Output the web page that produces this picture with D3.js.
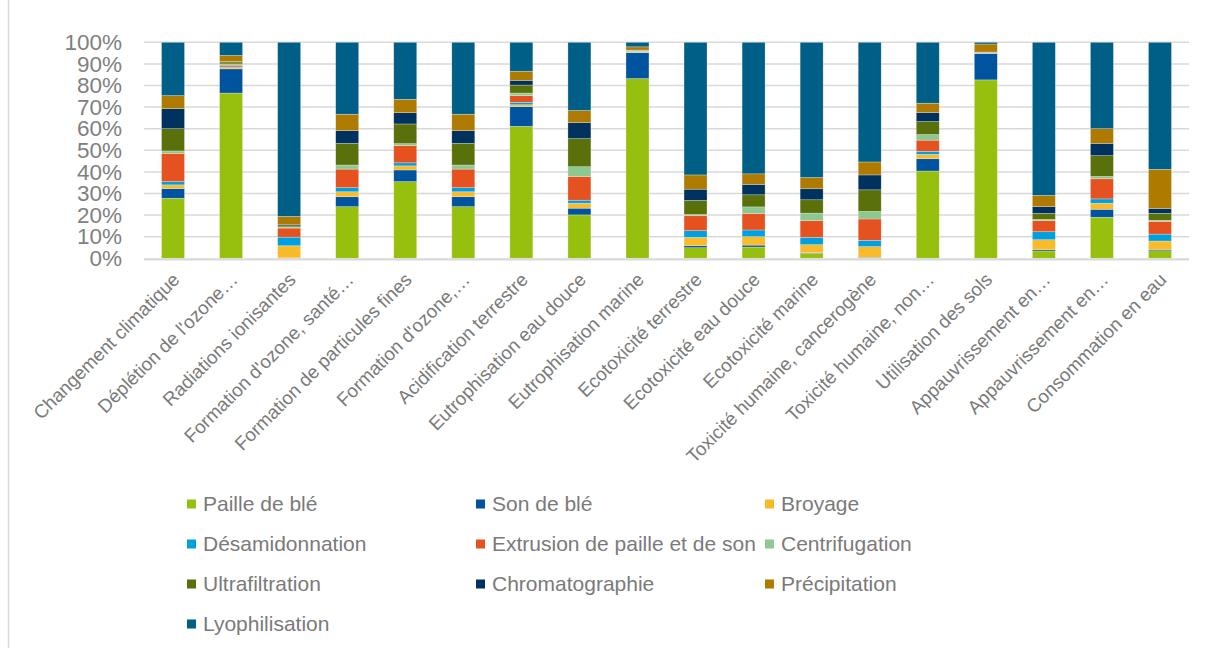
<!DOCTYPE html>
<html lang="fr">
<head>
<meta charset="utf-8">
<script src="https://cdn.jsdelivr.net/npm/d3@7"></script>
<style>
  html, body { margin: 0; padding: 0; background: #fff; }
  svg { display: block; font-family: "Liberation Sans", Arial, sans-serif; }
</style>
</head>
<body>
<svg id="chart" width="1205" height="648"></svg>
<script>
// Impact categories (x axis)
const categories = [
  "Changement climatique", "Déplétion de l'ozone…", "Radiations ionisantes",
  "Formation d'ozone, santé…", "Formation de particules fines", "Formation d'ozone,…",
  "Acidification terrestre", "Eutrophisation eau douce", "Eutrophisation marine",
  "Ecotoxicité terrestre", "Ecotoxicité eau douce", "Ecotoxicité marine",
  "Toxicité humaine, cancerogène", "Toxicité humaine, non…", "Utilisation des sols",
  "Appauvrissement en…", "Appauvrissement en…", "Consommation en eau"
];

// Contribution of each process step (%), one value per category
const pailleDeBle      = [27.8, 76.5, 0.1, 23.9, 35.5, 23.9, 61.1, 20.1, 83.2, 4.9, 5.2, 2.3, 0.3, 40.4, 82.6, 3.4, 19.0, 3.5];
const sonDeBle         = [4.5, 11.2, 0.1, 4.6, 5.4, 4.6, 9.1, 3.1, 12.0, 0.9, 0.9, 0.3, 0.2, 5.7, 12.2, 0.6, 3.7, 0.6];
const broyage          = [1.7, 0.6, 5.6, 2.3, 1.9, 2.3, 0.9, 2.3, 0.2, 3.9, 3.9, 3.7, 4.9, 2.0, 0.1, 4.6, 2.8, 3.9];
const desamidonnation  = [1.5, 0.3, 4.0, 1.9, 1.4, 1.9, 1.1, 1.4, 0.1, 3.1, 3.1, 3.4, 2.9, 1.4, 0.1, 3.7, 2.0, 3.2];
const extrusion        = [13.1, 0.8, 4.2, 8.6, 8.0, 8.6, 3.1, 11.0, 0.3, 6.9, 7.6, 7.7, 9.9, 5.2, 0.2, 5.1, 9.3, 5.9];
const centrifugation   = [1.1, 0.6, 0.5, 1.9, 0.9, 1.9, 1.2, 4.5, 0.4, 0.6, 3.1, 3.5, 3.5, 2.6, 0.1, 0.6, 1.1, 0.5];
const ultrafiltration  = [10.3, 0.9, 0.5, 10.0, 9.1, 10.0, 3.7, 13.0, 0.1, 6.5, 5.6, 6.2, 10.0, 6.0, 0.1, 2.8, 9.6, 3.2];
const chromatographie  = [9.3, 0.2, 0.5, 5.9, 5.2, 5.9, 2.2, 7.4, 0.1, 5.2, 4.8, 5.1, 6.9, 4.2, 0.1, 3.1, 5.7, 2.3];
const precipitation    = [6.0, 2.8, 3.9, 7.6, 6.2, 7.6, 4.2, 5.6, 1.5, 6.6, 4.9, 5.2, 6.0, 4.3, 3.7, 5.2, 6.8, 18.1];
const lyophilisation   = [24.7, 6.1, 80.6, 33.3, 26.4, 33.3, 13.4, 31.6, 2.1, 61.4, 60.9, 62.6, 55.4, 28.2, 0.8, 70.9, 40.0, 58.8];

const seriesNames = [
  "Paille de blé", "Son de blé", "Broyage", "Désamidonnation",
  "Extrusion de paille et de son", "Centrifugation", "Ultrafiltration",
  "Chromatographie", "Précipitation", "Lyophilisation"
];
const seriesValues = [
  pailleDeBle, sonDeBle, broyage, desamidonnation, extrusion,
  centrifugation, ultrafiltration, chromatographie, precipitation, lyophilisation
];
const seriesColors = [
  "#97c00e", "#00549f", "#fbba2a", "#009fdf", "#e65120",
  "#8dc891", "#5a700a", "#00325f", "#ae7a00", "#005f87"
];

const yTicks = [0, 0.1, 0.2, 0.3, 0.4, 0.5, 0.6, 0.7, 0.8, 0.9, 1];

// Table for d3.stack: one row per category
const rows = categories.map((c, i) => {
  const r = { idx: i };
  seriesNames.forEach((s, k) => { r[s] = seriesValues[k][i]; });
  return r;
});

const svg = d3.select("#chart");
const plot = { left: 144, right: 1189, top: 42.3, bottom: 258.3 };

// Outer frame edge
svg.append("line")
  .attr("x1", 8.5).attr("x2", 8.5).attr("y1", 0).attr("y2", 648)
  .attr("stroke", "#d9d9d9").attr("stroke-width", 1.5);

const x = d3.scaleBand()
  .domain(d3.range(categories.length))
  .range([plot.left, plot.right])
  .paddingInner(0.604)
  .paddingOuter(0.302);

const y = d3.scaleLinear().domain([0, 1]).range([plot.bottom, plot.top]);

// Horizontal gridlines
svg.append("g")
  .selectAll("line")
  .data(yTicks.slice(1))
  .join("line")
  .attr("x1", plot.left).attr("x2", plot.right)
  .attr("y1", d => y(d)).attr("y2", d => y(d))
  .attr("stroke", "#d9d9d9").attr("stroke-width", 1.5);

// Y axis labels
const yAxis = d3.axisLeft(y)
  .tickValues(yTicks)
  .tickFormat(d3.format(".0%"))
  .tickSize(0)
  .tickPadding(0);
const gy = svg.append("g")
  .attr("transform", `translate(${plot.left - 22},0)`)
  .call(yAxis);
gy.select(".domain").remove();
gy.selectAll("text")
  .attr("fill", "#808080")
  .style("font-size", "22.5px")
  .style("font-family", "'Liberation Sans', Arial, sans-serif");

// Stacked bars (100 %)
const stack = d3.stack().keys(seriesNames).offset(d3.stackOffsetExpand);
const layers = stack(rows);

svg.append("g")
  .selectAll("g")
  .data(layers)
  .join("g")
  .attr("fill", (d, i) => seriesColors[i])
  .selectAll("rect")
  .data(d => d)
  .join("rect")
  .attr("x", d => x(d.data.idx))
  .attr("width", x.bandwidth())
  .attr("y", d => y(d[1]))
  .attr("height", d => Math.max(0, y(d[0]) - y(d[1])))
  .attr("stroke", "#ffffff")
  .attr("stroke-opacity", 0.45)
  .attr("stroke-width", 0.6);

// Baseline
svg.append("line")
  .attr("x1", plot.left).attr("x2", plot.right)
  .attr("y1", plot.bottom + 1).attr("y2", plot.bottom + 1)
  .attr("stroke", "#d9d9d9").attr("stroke-width", 2.2);

// X axis labels, rotated
const xAxis = d3.axisBottom(x)
  .tickFormat(i => categories[i])
  .tickSize(0)
  .tickPadding(0);
const gx = svg.append("g")
  .attr("transform", `translate(0,${plot.bottom})`)
  .call(xAxis);
gx.select(".domain").remove();
gx.selectAll(".tick text")
  .attr("fill", "#7a7a7a")
  .style("font-size", "18.8px")
  .style("font-family", "'Liberation Sans', Arial, sans-serif")
  .attr("text-anchor", "end")
  .attr("dy", "0.35em")
  .attr("transform", "translate(3,18) rotate(-45)");

// Legend: three columns
const legendCols = [187, 476, 765];
const legendRows = [504, 544, 584, 624];
const legend = svg.append("g")
  .selectAll("g")
  .data(seriesNames)
  .join("g")
  .attr("transform", (d, i) => `translate(${legendCols[i % 3]},${legendRows[Math.floor(i / 3)]})`);
legend.append("rect")
  .attr("x", 0).attr("y", -4.5)
  .attr("width", 9).attr("height", 9)
  .attr("fill", (d, i) => seriesColors[i]);
legend.append("text")
  .attr("x", 16).attr("y", 0).attr("dy", "0.35em")
  .attr("fill", "#7a7a7a")
  .style("font-size", "21px")
  .text(d => d);
</script>
</body>
</html>
